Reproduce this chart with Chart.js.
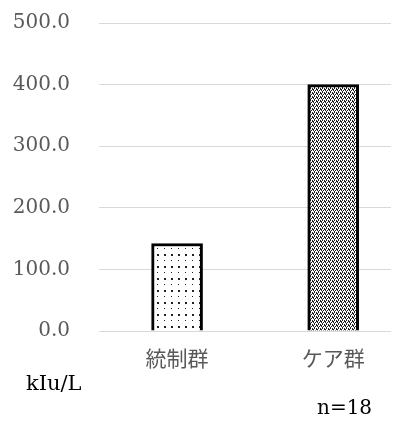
<!DOCTYPE html>
<html lang="ja">
<head>
  <meta charset="utf-8">
  <title>kIu/L</title>
  <script src="https://cdn.jsdelivr.net/npm/chart.js@4.4.1/dist/chart.umd.min.js"></script>
  <style>
    html, body {
      margin: 0;
      padding: 0;
      background: #fff;
      overflow: hidden;
    }

    #wrap {
      width: 404px;
      height: 423px;
      position: relative;
    }
  </style>
</head>
<body>
  <div id="wrap">
    <canvas id="myChart"></canvas>
  </div>

<script>
  // data
  const groups = ['統制群', 'ケア群'];
  const groupPos = [0, 1];
  const values = [142, 400];
  const yTicks = [0, 100, 200, 300, 400, 500];
  const unitLabel = 'kIu/L';
  const nLabel = 'n=18';

  const serif = '"DejaVu Serif", "Liberation Serif", serif';
  const cjk = '"Noto Sans CJK JP", "Noto Sans", sans-serif';

  // small dotted fill tiles
  function makePattern(w, h, dots) {
    var c = document.createElement('canvas');
    c.width = w;
    c.height = h;
    var g = c.getContext('2d');
    g.fillStyle = '#fff';
    g.fillRect(0, 0, w, h);
    g.fillStyle = '#222';
    dots.forEach(function (d) {
      g.fillRect(d[0], d[1], d[2], d[2]);
    });
    return g.createPattern(c, 'repeat');
  }

  const sparseDots = makePattern(7, 12, [[3, 2, 2], [3, 8, 1]]);
  const denseDots = makePattern(4, 4, [[0, 0, 1], [2, 0, 1], [1, 2, 1], [3, 2, 1], [0, 1, 1], [2, 3, 1], [1, 1, 1]]);

  // extra text under the plot
  const notes = {
    id: 'notes',
    afterDraw: function (chart) {
      var ctx = chart.ctx;
      ctx.save();
      ctx.fillStyle = '#000';
      ctx.textAlign = 'left';
      ctx.textBaseline = 'middle';
      ctx.font = '21px ' + serif;
      ctx.fillText(unitLabel, 26, 385);
      ctx.font = '20px ' + serif;
      ctx.fillText(nLabel, 317, 409);
      ctx.restore();
    }
  };

  function noPad(scale) {
    scale.paddingTop = 0;
    scale.paddingBottom = 0;
    scale.paddingLeft = 0;
    scale.paddingRight = 0;
  }

  var ctx = document.getElementById('myChart');
  var myChart = new Chart(ctx, {
    type: 'bar',
    data: {
      datasets: [{
        data: groupPos.map(function (x, i) { return { x: x, y: values[i] }; }),
        backgroundColor: [sparseDots, denseDots],
        borderColor: '#000',
        borderWidth: 3,
        borderSkipped: 'start',
        barThickness: 51
      }]
    },
    options: {
      responsive: true,
      maintainAspectRatio: false,
      animation: false,
      layout: {
        padding: { top: 23, right: 13, bottom: 0, left: 0 }
      },
      plugins: {
        legend: { display: false },
        tooltip: { enabled: false }
      },
      scales: {
        x: {
          type: 'linear',
          offset: false,
          min: -0.5,
          max: 1.37,
          grid: { display: false, drawTicks: false },
          border: { display: false },
          afterBuildTicks: function (scale) {
            scale.ticks = groupPos.map(function (v) { return { value: v }; });
          },
          afterFit: function (scale) {
            scale.height = 92;
            noPad(scale);
          },
          ticks: {
            padding: 14,
            maxRotation: 0,
            color: '#595959',
            font: { family: cjk, size: 21 },
            callback: function (v) {
              return groups[groupPos.indexOf(v)];
            }
          }
        },
        y: {
          min: 0,
          max: 500,
          grid: { color: '#d9d9d9', lineWidth: 1, drawTicks: false },
          border: { display: false },
          afterBuildTicks: function (scale) {
            scale.ticks = yTicks.map(function (v) { return { value: v }; });
          },
          afterFit: function (scale) {
            scale.width = 99;
            noPad(scale);
          },
          ticks: {
            padding: 29,
            color: '#595959',
            font: { family: serif, size: 20 },
            callback: function (v) {
              return v.toFixed(1);
            }
          }
        }
      }
    },
    plugins: [notes]
  });
</script>
</body>
</html>
